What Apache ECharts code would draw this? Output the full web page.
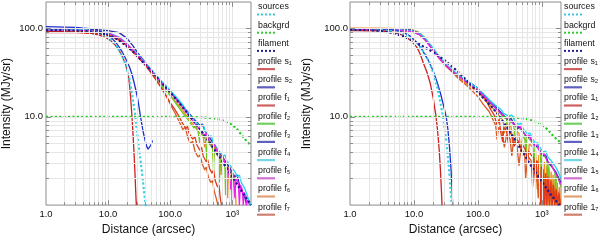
<!DOCTYPE html>
<html><head><meta charset="utf-8">
<script src="https://cdn.jsdelivr.net/npm/echarts@6/dist/echarts.min.js"></script>
<style>html,body{margin:0;padding:0;background:#fff}#c{width:600px;height:241px}</style>
</head><body><div id="c"></div>
<script>
// ---------- tick labels / legend text ----------
const xTickLabels = {1: '1.0', 10: '10.0', 100: '100.0', 1000: '10³'};
const yTickLabels = {10: '10.0', 100: '100.0'};
const legendLeft = ['sources','backgrd','filament','profile s₁','profile s₂','profile f₁','profile f₂','profile f₃','profile f₄','profile f₅','profile f₆','profile f₇'];
const legendRight = ['sources','backgrd','filament','profile s₁','profile s₂','profile 1₁','profile 1₂','profile 1₃','profile 1₄','profile 1₅','profile 1₆','profile 1₇'];

// ---------- left panel data [distance, intensity] ----------
const L_sources = [[1,98],[2,98],[3,97],[5,94],[7,89],[10,80],[13,67],[16,53],[19,40],[22,27],[25,16],[27,11],[29,7],[32,4],[35,2.4],[38,1.4],[41,0.9]];
const L_backgrd = [[1,10],[150,10],[300,9.9],[450,9.7],[600,9.4],[750,9.0],[900,8.5],[1050,7.9],[1200,7.2],[1350,6.5],[1500,5.9],[1700,5.3],[2000,4.7]];
const L_filament = [[1,96],[2,96],[3,95],[5,93],[7,90],[10,85],[13,78],[16,71],[20,63],[25,55],[30,48],[40,39],[50,33],[70,25],[100,19],[150,13.5],[200,10.5],[300,7.3],[400,5.5],[500,4.4],[700,3.1],[1000,2.1],[1400,1.45],[2000,1.0]];
const L_s1 = [[1,92],[2,92],[3,91],[5,89],[7,85],[9,80],[11,73],[13,65],[15,57],[17,48],[19,40],[20,35],[21,30],[22,24],[23,17],[24,11],[25,7],[26,4.2],[27,2.4],[28,1.3],[28.5,1.0]];
const L_s2 = [[1,105],[2,104],[3,103],[5,100],[7,95],[9,88],[11,80],[13,71],[15,62],[17,54],[20,43],[22,37],[24,31],[26,25],[28,20],[30,16],[32,12],[34,9.2],[36,7.3],[38,6],[40,5.2],[42,4.6],[44,4.3],[45,4.3],[46,4.4],[48,4.7],[50,5.0],[52,5.4]];
const L_f1 = [[1,90],[3,90],[6,88],[10,84],[15,74],[20,64],[30,48],[40,38],[50,31],[70,22],[100,14.5],[120,12],[140,10],[160,8.3],[180,7.4],[190,7.8],[200,6.6],[230,5.6],[250,5.9],[270,4.8],[300,4.2],[320,4.5],[340,3.6],[380,3.1],[400,3.3],[430,2.6],[470,2.3],[500,2.5],[530,1.9],[580,1.6],[610,1.7],[640,1.2],[670,1.0]];
const L_f2 = [[1,95],[3,95],[6,93],[10,88],[15,78],[20,67],[30,50],[40,40],[50,33],[70,24],[80,20],[90,19],[100,17.5],[130,13.5],[160,11],[200,9],[240,7.5],[260,7.8],[280,6.9],[300,5],[310,6.6],[340,6.0],[370,5.6],[390,3.2],[400,5.4],[440,4.8],[480,4.4],[500,2.4],[510,4.2],[560,3.8],[600,3.5],[620,1.8],[640,3.3],[700,3.0],[760,2.7],[780,1.3],[800,2.6],[880,2.3],[950,2.0],[990,1.0]];
const L_f3 = [[1,100],[3,100],[6,98],[10,95],[15,90],[20,78],[25,64],[30,53],[40,41],[50,33],[70,25],[100,19],[150,14],[200,11],[250,9.2],[300,8],[330,8.3],[360,7],[400,6.3],[430,6.5],[470,5.3],[520,4.8],[560,5],[600,4.1],[700,3.5],[750,3.6],[800,3],[900,2.7],[950,2.8],[1000,2.3],[1100,2.1],[1200,2.2],[1300,1.7],[1400,1.5],[1500,1.55],[1600,1.2],[1700,1.0]];
const L_f4 = [[1,97],[3,97],[6,95],[10,90],[15,80],[20,68],[30,51],[40,41],[50,34],[70,26],[100,20],[150,14.5],[200,10.8],[250,9],[300,7.8],[340,8.1],[380,6.4],[420,5.9],[460,6.1],[500,4.9],[560,4.4],[600,4.6],[650,3.9],[700,3.6],[760,3.7],[830,3.1],[930,2.8],[1000,2.9],[1100,2.4],[1200,2.1],[1300,2.2],[1400,1.8],[1550,1.6],[1700,1.35],[1800,1.2],[2000,1.0]];
const L_f5 = [[1,96],[3,96],[6,94],[10,89],[15,79],[20,67],[30,50],[40,40],[50,33],[70,25],[100,19],[150,13.5],[200,10.3],[250,8.4],[300,7.2],[350,6.2],[380,6.5],[420,5.4],[480,4.6],[520,4.8],[570,4],[640,3.5],[700,3.6],[760,3],[850,2.6],[900,2.7],[950,1.5],[980,2.4],[1050,2.2],[1100,1.2],[1150,2.0],[1250,1.8],[1300,1.0],[1350,1.7],[1450,1.5],[1500,1.0],[1550,1.4],[1650,1.25],[1700,1.0],[1750,1.15],[1900,1.0]];
const L_f6 = [[1,93],[3,93],[6,91],[10,86],[15,76],[20,65],[30,49],[40,39],[50,32],[70,24],[100,17.5],[150,12.5],[200,9.5],[250,7.7],[300,6.5],[330,6.8],[360,4.5],[380,6.1],[430,5.4],[480,4.9],[500,3.2],[520,4.7],[580,4.2],[640,3.8],[660,2.2],[690,3.6],[760,3.2],[820,2.9],[840,1.2],[870,2.8],[950,2.5],[1000,1.0],[1050,2.2],[1100,2.0],[1150,1.0]];
const L_f7 = [[1,91],[3,91],[6,89],[10,85],[15,76],[20,65],[30,49],[40,39],[50,31],[60,26],[80,19],[100,14],[120,11],[140,8.8],[160,7.2],[175,7.6],[190,6],[210,5],[230,5.3],[250,4.1],[280,3.5],[300,3.7],[330,2.9],[360,2.5],[380,2.7],[410,2.1],[450,1.8],[480,1.9],[510,1.45],[550,1.2],[580,1.25],[610,0.9]];

// ---------- right panel data ----------
const R_sources = [[1,97],[3,96],[5,93],[7,87],[9,79],[11,70],[13,60],[15,51],[17,43],[20,32],[23,22],[26,14.5],[28.5,10],[31,6.5],[33,4.4],[35,2.8],[37,1.7],[39,1.0]];
const R_backgrd = [[1,10],[150,10],[300,9.9],[450,9.7],[600,9.4],[750,9.0],[900,8.5],[1050,7.9],[1200,7.3],[1350,6.7],[1500,6.1],[1700,5.6],[2000,5.1]];
const R_filament = [[1,97],[2,96],[3,94],[5,88],[7,81],[10,72],[15,61],[20,54],[30,44],[50,32],[70,25],[100,19],[150,14],[200,11],[300,7.2],[500,4.0],[700,2.7],[1000,1.85],[1400,1.3],[1900,1.0]];
const R_s1 = [[1,95],[3,94],[5,90],[7,83],[9,73],[10,67],[11,62],[12,55],[13,48],[14,41],[16,32],[18,24],[20,16.5],[21,13],[22,10.5],[23,8],[24,5.8],[25,4],[26,2.5],[27,1.4],[27.5,1.0]];
const R_s2 = [[1,100],[2,100],[3,99],[5,96],[7,90],[9,81],[11,70],[13,60],[15,50],[17,43],[20,33],[23,25],[26,18.5],[29,13.5],[32,10],[34,7.2],[36,4.6],[38,2.6],[39,1.8],[40,1.2],[40.5,1.0]];
const R_f1 = [[1,99],[3,99],[6,98],[9,96],[12,88],[15,74],[20,57],[25,46],[30,40],[40,33],[50,29],[70,24],[100,20],[130,16],[160,12],[180,10.5],[200,8],[215,9.4],[230,6.5],[245,5.2],[255,7.6],[280,7],[300,5],[310,6.8],[340,6.2],[370,4.6],[390,5.8],[430,5.3],[470,4.4],[500,4.8],[550,4.3],[600,3.2],[620,4.1],[680,3.7],[750,3.4],[800,1.8],[830,3.2],[900,2.9],[950,1.0],[980,2.7],[1050,2.5],[1100,1.0],[1150,2.3],[1200,1.0],[1250,2.1],[1320,1.0],[1380,1.9],[1450,1.0],[1520,1.7],[1600,1.0],[1680,1.5],[1750,1.0],[1850,1.35],[1950,1.0]];
const R_f2 = [[1,100],[3,100],[6,99],[9,97],[12,90],[15,77],[20,59],[25,47],[30,40],[40,33],[50,29],[70,24],[100,20],[150,14.5],[200,12],[250,10],[280,9.5],[300,6.2],[320,9],[360,8.3],[400,5],[420,7.8],[480,7],[540,6.4],[560,3.8],[590,6],[650,5.5],[720,5.1],[750,2.8],[790,4.8],[870,4.4],[950,4.1],[980,2.2],[1020,3.9],[1100,3.6],[1200,3.3],[1250,1.8],[1300,3.0],[1450,2.7],[1600,2.4],[1650,1.3],[1700,2.2],[1850,1.9],[2000,1.6]];
const R_f3 = [[1,100],[3,100],[6,99],[9,96],[12,88],[15,76],[20,58],[25,47],[30,40],[40,33],[50,29],[70,25],[90,22.5],[100,21],[130,17],[160,14.5],[200,12.5],[250,10.5],[300,9.2],[330,9.6],[370,8.3],[420,7.4],[460,7.7],[520,6.6],[600,5.8],[650,6.0],[720,5.1],[800,4.6],[870,4.7],[950,4.0],[1050,3.6],[1150,3.7],[1250,3.1],[1400,2.8],[1500,2.9],[1650,2.4],[1800,2.1],[2000,1.8]];
const R_f4 = [[1,98],[3,98],[6,97],[9,95],[12,89],[15,78],[20,60],[25,48],[30,41],[40,34],[50,30],[70,25],[100,21],[130,17.5],[160,15],[200,13],[230,12.2],[250,11],[300,10.2],[340,10.5],[380,9],[430,8.2],[470,8.5],[520,7.2],[600,6.4],[650,6.6],[720,5.6],[800,5],[870,5.1],[950,4.4],[1050,4.0],[1150,4.1],[1250,3.5],[1400,3.2],[1500,3.3],[1650,2.7],[1800,2.4],[1900,2.4],[2000,2.0]];
const R_f5 = [[1,97],[3,97],[6,96],[9,93],[12,86],[15,74],[20,57],[25,46],[30,40],[40,33],[50,29],[70,24],[100,20],[150,15],[200,12],[250,10.3],[300,9.4],[350,8.5],[400,7.6],[450,7.9],[500,6.8],[580,6],[640,6.2],[700,5.2],[780,4.7],[850,4.8],[920,4.1],[1000,3.7],[1100,3.8],[1200,3.2],[1300,2.9],[1400,3.0],[1500,2.6],[1650,2.3],[1800,2.0],[1900,2.05],[2000,1.7]];
const R_f6 = [[1,101],[3,101],[6,100],[9,98],[12,91],[15,78],[20,59],[25,47],[30,40],[40,33],[50,28],[70,23],[100,19],[150,14],[200,11],[250,9],[260,6.5],[280,8.5],[330,7.8],[350,5],[380,7.2],[440,6.5],[470,4],[500,6],[570,5.4],[600,3],[640,5],[720,4.5],[760,2.2],[800,4.1],[850,1.5],[900,3.7],[950,1.0],[1000,3.4],[1050,1.0],[1100,3.1],[1150,1.0],[1200,2.8],[1250,1.0],[1300,2.6],[1350,1.0],[1400,2.4],[1450,1.0],[1500,2.2],[1560,1.0],[1620,2.0],[1680,1.0],[1750,1.8],[1820,1.0],[1900,1.6],[1960,1.0]];
const R_f7 = [[1,96],[3,96],[6,95],[9,92],[12,86],[15,75],[20,57],[25,46],[30,39],[40,32],[50,27],[70,22],[100,17],[120,14],[150,11.5],[170,9.5],[190,8],[200,5.5],[210,7.6],[240,6.8],[260,4.5],[280,6.2],[320,5.6],[340,3.6],[360,5.2],[410,4.7],[440,2.8],[470,4.3],[540,3.9],[560,2],[600,3.6],[680,3.2],[720,1.6],[760,3],[830,2.7],[880,1.2],[920,2.5],[980,1.0],[1020,2.3],[1080,1.0],[1130,2.1],[1190,1.0],[1250,2.0],[1320,1.0],[1380,1.8],[1450,1.0],[1520,1.7],[1600,1.0],[1680,1.5],[1760,1.0],[1850,1.4],[1950,1.0]];

// ---------- styling ----------
const FONT = 'Liberation Sans';
const lineColors = {sources:'#3ccfe0', backgrd:'#22cc22', filament:'#1c1c8c', s1:'#cc2020', s2:'#1f2fcc',
  f1:'#e03818', f2:'#6cc820', f3:'#2a2ab4', f4:'#22d2f2', f5:'#ee22ee', f6:'#f08a20', f7:'#d85a28'};
const legendColors = ['#40c8d8','#30cc30','#202090','#d06060','#6060c0','#d06060','#70d060','#6060c0','#70d8e8','#d070d0','#e0a070','#d08070'];
const legendDotted = [true,true,true,false,false,false,false,false,false,false,false,false];

const grids = [
  {left: 43, top: 2, width: 208, height: 210},
  {left: 350, top: 2, width: 211, height: 210}
];
const X_MIN = 1, X_MAX = 2000, Y_MIN = 1, Y_MAX = 200;

function gridValues(lo, hi) {
  const out = [];
  for (let d = 1; d < hi; d *= 10) for (let k = 1; k < 10; k++) {
    const v = k * d; if (v > lo && v < hi) out.push({v, major: k === 1});
  }
  return out;
}
function helperSeries(gi) {
  const g = grids[gi];
  const xDec = g.width / Math.log10(X_MAX / X_MIN), yDec = g.height / Math.log10(Y_MAX / Y_MIN);
  const fx = px => Math.pow(10, px / xDec), fy = px => Math.pow(10, px / yDec);
  const gl = [], tk = [];
  gridValues(X_MIN, X_MAX).forEach(o => {
    gl.push({xAxis: o.v});
    const L = o.major ? 5 : 3;
    tk.push([{coord: [o.v, Y_MIN]}, {coord: [o.v, Y_MIN * fy(L)]}]);
    tk.push([{coord: [o.v, Y_MAX]}, {coord: [o.v, Y_MAX / fy(L)]}]);
  });
  gridValues(Y_MIN, Y_MAX).forEach(o => {
    gl.push({yAxis: o.v});
    const L = o.major ? 5 : 3;
    tk.push([{coord: [X_MIN, o.v]}, {coord: [X_MIN * fx(L), o.v]}]);
    tk.push([{coord: [X_MAX, o.v]}, {coord: [X_MAX / fx(L), o.v]}]);
  });
  return [
    {type: 'line', xAxisIndex: gi, yAxisIndex: gi, data: [], z: 1, silent: true,
     markLine: {silent: true, symbol: 'none', label: {show: false}, animation: false,
       lineStyle: {color: '#e6e6e6', type: 'solid', width: 1}, emphasis: {disabled: true}, data: gl}},
    {type: 'line', xAxisIndex: gi, yAxisIndex: gi, data: [], z: 5, silent: true,
     markLine: {silent: true, symbol: 'none', label: {show: false}, animation: false,
       lineStyle: {color: '#8c8c8c', type: 'solid', width: 1}, emphasis: {disabled: true}, data: tk}}
  ];
}
function ln(gi, name, data, color, dotted) {
  return {type: 'line', name, xAxisIndex: gi, yAxisIndex: gi, data, showSymbol: false, symbol: 'none',
    clip: true, z: dotted ? 4 : 3, silent: true, animation: false,
    lineStyle: {color, width: dotted ? 2.2 : 1.3, type: dotted ? 'dotted' : 'solid'}};
}
function panelSeries(gi, d) {
  const c = lineColors;
  return [
    ln(gi, 'f6', d.f6, c.f6), ln(gi, 'f2', d.f2, c.f2), ln(gi, 'f7', d.f7, c.f7), ln(gi, 'f1', d.f1, c.f1),
    ln(gi, 'f3', d.f3, c.f3), ln(gi, 'f4', d.f4, c.f4), ln(gi, 'f5', d.f5, c.f5),
    ln(gi, 's1', d.s1, c.s1), ln(gi, 's2', d.s2, c.s2),
    ln(gi, 'sources', d.sources, c.sources, true), ln(gi, 'backgrd', d.backgrd, c.backgrd, true),
    ln(gi, 'filament', d.filament, c.filament, true)
  ];
}
function legendGraphics(tx, lx, labels) {
  const els = [];
  labels.forEach((t, i) => {
    const yc = 7 + i * 18.2;
    els.push({type: 'text', x: tx, y: yc, silent: true,
      style: {text: t, fill: '#111', fontSize: 8.8, fontFamily: FONT, verticalAlign: 'middle', align: 'left'}});
    els.push({type: 'line', silent: true, shape: {x1: lx, y1: yc + 7.5, x2: lx + 18, y2: yc + 7.5},
      style: {stroke: legendColors[i], lineWidth: legendDotted[i] ? 2 : 2.2, lineDash: legendDotted[i] ? [2, 2] : null}});
  });
  return els;
}
function xAxisOpt(gi, nameGap) {
  return {type: 'log', logBase: 10, gridIndex: gi, min: X_MIN, max: X_MAX,
    name: 'Distance (arcsec)', nameLocation: 'middle', nameGap,
    nameTextStyle: {fontSize: 12, fontFamily: FONT, color: '#111'},
    axisLine: {show: false}, axisTick: {show: false}, splitLine: {show: false},
    axisLabel: {fontSize: 9.5, fontFamily: FONT, color: '#111', margin: 4, showMinLabel: true, showMaxLabel: true,
      formatter: v => xTickLabels[Math.round(v)] && Math.abs(v - Math.round(v)) < 1e-6 ? xTickLabels[Math.round(v)] : ''}};
}
function yAxisOpt(gi, nameGap, margin) {
  return {type: 'log', logBase: 10, gridIndex: gi, min: Y_MIN, max: Y_MAX,
    name: 'Intensity (MJy/sr)', nameLocation: 'middle', nameGap,
    nameTextStyle: {fontSize: 12, fontFamily: FONT, color: '#111'},
    axisLine: {show: false}, axisTick: {show: false}, splitLine: {show: false},
    axisLabel: {fontSize: 9.5, fontFamily: FONT, color: '#111', margin,
      formatter: v => yTickLabels[Math.round(v)] && Math.abs(v - Math.round(v)) < 1e-6 ? yTickLabels[Math.round(v)] : ''}};
}

const leftData = {sources: L_sources, backgrd: L_backgrd, filament: L_filament, s1: L_s1, s2: L_s2,
  f1: L_f1, f2: L_f2, f3: L_f3, f4: L_f4, f5: L_f5, f6: L_f6, f7: L_f7};
const rightData = {sources: R_sources, backgrd: R_backgrd, filament: R_filament, s1: R_s1, s2: R_s2,
  f1: R_f1, f2: R_f2, f3: R_f3, f4: R_f4, f5: R_f5, f6: R_f6, f7: R_f7};

const chart = echarts.init(document.getElementById('c'), null, {renderer: 'canvas'});
chart.setOption({
  animation: false,
  backgroundColor: '#fff',
  textStyle: {fontFamily: FONT},
  grid: grids.map(g => Object.assign({show: true, borderColor: '#8c8c8c', borderWidth: 1, backgroundColor: 'transparent'}, g)),
  xAxis: [xAxisOpt(0, 18), xAxisOpt(1, 18)],
  yAxis: [yAxisOpt(0, 33, 3), yAxisOpt(1, 37, 2)],
  series: [].concat(helperSeries(0), helperSeries(1), panelSeries(0, leftData), panelSeries(1, rightData)),
  graphic: {elements: [].concat(legendGraphics(258, 257, legendLeft), legendGraphics(564, 564, legendRight))}
});
</script></body></html>
